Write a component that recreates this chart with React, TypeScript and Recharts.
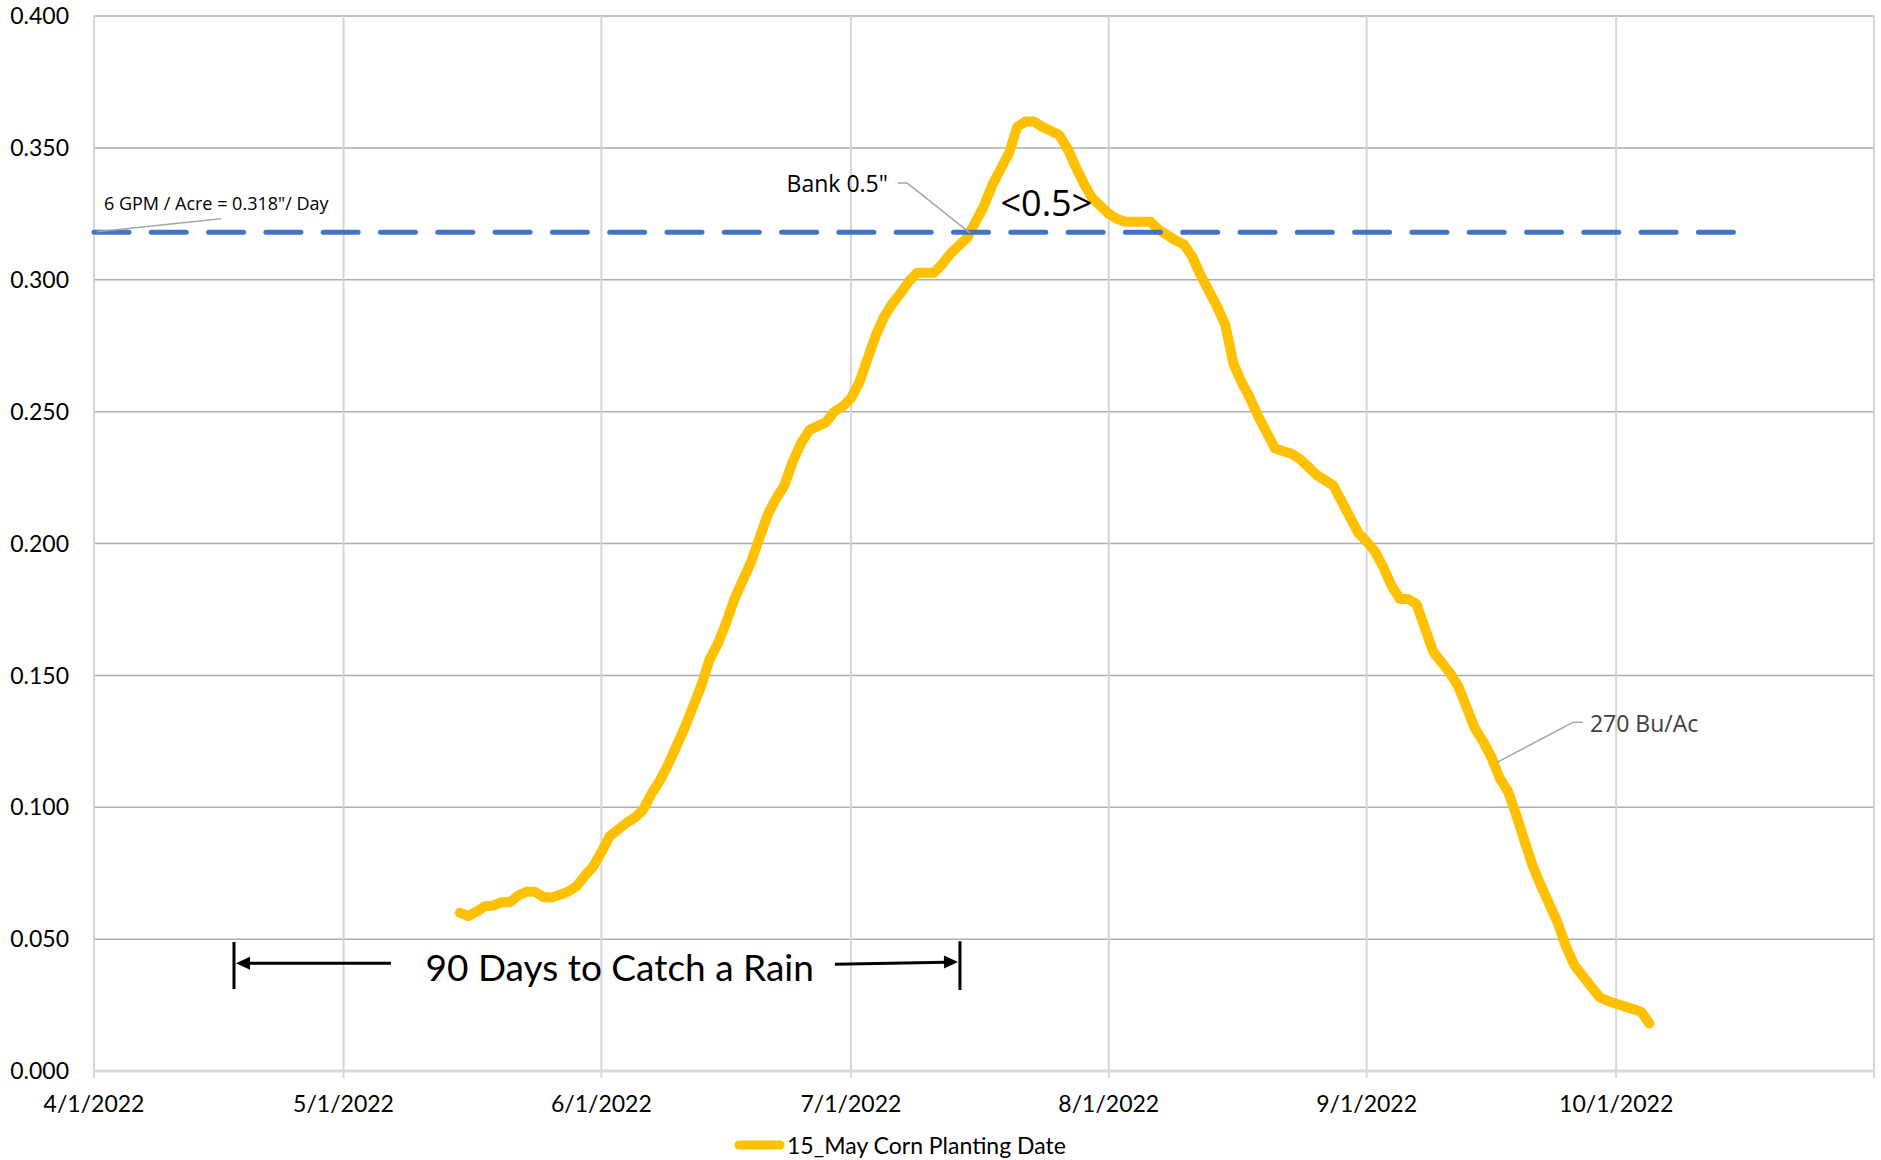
import React from 'react';
import {
  LineChart,
  Line,
  XAxis,
  YAxis,
  CartesianGrid,
  Legend,
  ReferenceLine,
  ReferenceDot,
} from 'recharts';

// ---- axis ----
const axisStart = '2022-04-01';
const axisEnd = '2022-11-01';
const tickDates = [
  '2022-04-01',
  '2022-05-01',
  '2022-06-01',
  '2022-07-01',
  '2022-08-01',
  '2022-09-01',
  '2022-10-01',
  '2022-11-01',
];
const tickLabels = ['4/1/2022', '5/1/2022', '6/1/2022', '7/1/2022', '8/1/2022', '9/1/2022', '10/1/2022', ''];
const yTicks = [0, 0.05, 0.1, 0.15, 0.2, 0.25, 0.3, 0.35, 0.4];

// ---- series: daily water use (in/day), 15 May planting ----
const seriesName = '15_May Corn Planting Date';
const useStart = '2022-05-15';
const waterUse = [
  0.06, 0.0587, 0.0605, 0.0625, 0.0627, 0.064, 0.064, 0.0665, 0.068, 0.068,
  0.066, 0.0658, 0.0668, 0.068, 0.07, 0.074, 0.0775, 0.083, 0.089, 0.0915,
  0.094, 0.096, 0.099, 0.105, 0.11, 0.116, 0.123, 0.13, 0.138, 0.146,
  0.156, 0.162, 0.17, 0.179, 0.186, 0.193, 0.202, 0.211, 0.217, 0.222,
  0.231, 0.238, 0.243, 0.2445, 0.246, 0.25, 0.252, 0.255, 0.261, 0.27,
  0.279, 0.286, 0.291, 0.295, 0.2995, 0.3027, 0.3027, 0.3027, 0.306, 0.31,
  0.313, 0.316, 0.322, 0.328, 0.336, 0.342, 0.348, 0.358, 0.36, 0.36,
  0.358, 0.3565, 0.355, 0.35, 0.343, 0.3365, 0.331, 0.328, 0.325, 0.323,
  0.322, 0.322, 0.322, 0.322, 0.319, 0.317, 0.315, 0.3135, 0.309, 0.302,
  0.296, 0.29, 0.283, 0.268, 0.261, 0.255, 0.248, 0.242, 0.236, 0.235,
  0.234, 0.232, 0.229, 0.226, 0.224, 0.222, 0.216, 0.21, 0.204, 0.2008,
  0.197, 0.191, 0.184, 0.179, 0.179, 0.177, 0.168, 0.159, 0.155, 0.151,
  0.146, 0.138, 0.13, 0.125, 0.119, 0.111, 0.106, 0.097, 0.087, 0.0775,
  0.07, 0.063, 0.056, 0.047, 0.04, 0.036, 0.032, 0.028, 0.0265, 0.0255,
  0.0245, 0.0235, 0.0225, 0.018,
];

// ---- threshold series: 6 GPM / acre ----
const thresholdValue = 0.318;
const thresholdStart = '2022-04-01';
const thresholdEnd = '2022-10-17';

const dayOf = (iso: string) => Math.round((Date.parse(iso) - Date.parse(axisStart)) / 86400000);

const useStartDay = dayOf(useStart);
const thrStartDay = dayOf(thresholdStart);
const thrEndDay = dayOf(thresholdEnd);
const lastDay = Math.max(thrEndDay, useStartDay + waterUse.length - 1);

const rows: { day: number; use?: number; threshold?: number }[] = [];
for (let d = 0; d <= lastDay; d++) {
  const row: { day: number; use?: number; threshold?: number } = { day: d };
  const i = d - useStartDay;
  if (i >= 0 && i < waterUse.length) row.use = waterUse[i];
  if (d >= thrStartDay && d <= thrEndDay) row.threshold = thresholdValue;
  rows.push(row);
}

const tickDays = tickDates.map(dayOf);
const labelFor = (d: number) => {
  const i = tickDays.indexOf(d);
  return i >= 0 ? tickLabels[i] : '';
};

const AXIS_FONT = 'Lato, "Liberation Sans", sans-serif';
const NOTE_FONT = '"Open Sans", "Noto Sans", sans-serif';
const LEADER = '#A6A6A6';

const textShape =
  (text: string, size: number, anchor: 'start' | 'middle' | 'end', fill: string, family: string) =>
  (p: any) => (
    <text
      x={p.cx}
      y={p.cy}
      textAnchor={anchor}
      dominantBaseline="central"
      fontSize={size}
      fontFamily={family}
      fill={fill}
    >
      {text}
    </text>
  );

const arrowHead = (dir: 'left' | 'right') => (p: any) => {
  const s = dir === 'left' ? 1 : -1;
  return (
    <path
      d={`M ${p.cx} ${p.cy} L ${p.cx + s * 14} ${p.cy - 6.5} L ${p.cx + s * 14} ${p.cy + 6.5} Z`}
      fill="#000"
    />
  );
};

const LegendContent = () => (
  <div style={{ display: 'flex', alignItems: 'center', height: 30, marginLeft: 733 }}>
    <svg width={52} height={14} style={{ display: 'block' }}>
      <line x1={6} y1={7} x2={47} y2={7} stroke="#FFC000" strokeWidth={9} strokeLinecap="round" />
    </svg>
    <span style={{ fontFamily: AXIS_FONT, fontSize: 23, color: '#000', marginLeft: 2 }}>{seriesName}</span>
  </div>
);

export default function App() {
  return (
    <div style={{ position: 'absolute', left: 0, top: 0, width: 1881, height: 1160, background: '#fff' }}>
      <LineChart width={1881} height={1160} data={rows} margin={{ top: 16, right: 7, bottom: 0, left: 0 }}>
        <CartesianGrid vertical={false} stroke="#ADADAD" strokeWidth={1.5} />
        <CartesianGrid horizontal={false} stroke="#D6D6D6" strokeWidth={2} />
        <XAxis
          type="number"
          dataKey="day"
          domain={[tickDays[0], dayOf(axisEnd)]}
          ticks={tickDays}
          interval={0}
          tickFormatter={labelFor}
          height={59}
          tickSize={7}
          tickMargin={18}
          axisLine={{ stroke: '#D9D9D9', strokeWidth: 3 }}
          tickLine={{ stroke: '#D9D9D9', strokeWidth: 2 }}
          tick={{ fill: '#000', fontSize: 23, fontFamily: AXIS_FONT }}
        />
        <YAxis
          type="number"
          domain={[0, 0.4]}
          ticks={yTicks}
          interval={0}
          width={94}
          tickSize={0}
          tickMargin={25}
          axisLine={false}
          tickLine={false}
          tickFormatter={(v: number) => v.toFixed(3)}
          tick={{ fill: '#000', fontSize: 23, fontFamily: AXIS_FONT }}
        />
        <Legend verticalAlign="bottom" height={30} content={LegendContent} />
        <Line
          type="linear"
          dataKey="use"
          name={seriesName}
          stroke="#FFC000"
          strokeWidth={10}
          strokeLinejoin="round"
          strokeLinecap="round"
          dot={false}
          activeDot={false}
          isAnimationActive={false}
        />
        <Line
          type="linear"
          dataKey="threshold"
          name="6 GPM / Acre"
          stroke="#4472C4"
          strokeWidth={5}
          strokeDasharray="35 22.3"
          strokeLinecap="round"
          dot={false}
          activeDot={false}
          legendType="none"
          isAnimationActive={false}
        />

        {/* 6 GPM label */}
        <ReferenceLine segment={[{ x: 0.36, y: 0.3182 }, { x: 15.27, y: 0.3231 }]} stroke={LEADER} strokeWidth={1.5} />
        <ReferenceDot x={1.2} y={0.3292} r={0} shape={textShape('6 GPM / Acre = 0.318"/ Day', 18, 'start', '#000', NOTE_FONT)} />

        {/* Bank 0.5" label */}
        <ReferenceLine segment={[{ x: 96.66, y: 0.3367 }, { x: 97.74, y: 0.3367 }]} stroke={LEADER} strokeWidth={1.5} />
        <ReferenceLine segment={[{ x: 97.74, y: 0.3367 }, { x: 105.31, y: 0.3178 }]} stroke={LEADER} strokeWidth={1.5} />
        <ReferenceDot x={95.45} y={0.3365} r={0} shape={textShape('Bank 0.5"', 23, 'end', '#000', NOTE_FONT)} />
        <ReferenceDot x={114.5} y={0.3294} r={0} shape={textShape('<0.5>', 36, 'middle', '#000', NOTE_FONT)} />

        {/* 270 Bu/Ac label */}
        <ReferenceLine segment={[{ x: 179.0, y: 0.1322 }, { x: 177.8, y: 0.1322 }]} stroke={LEADER} strokeWidth={1.5} />
        <ReferenceLine segment={[{ x: 177.8, y: 0.1322 }, { x: 168.67, y: 0.117 }]} stroke={LEADER} strokeWidth={1.5} />
        <ReferenceDot x={179.85} y={0.1318} r={0} shape={textShape('270 Bu/Ac', 23, 'start', '#404040', NOTE_FONT)} />

        {/* 90 Days to Catch a Rain */}
        <ReferenceLine segment={[{ x: 16.83, y: 0.0489 }, { x: 16.83, y: 0.0311 }]} stroke="#000" strokeWidth={3} />
        <ReferenceLine segment={[{ x: 104.11, y: 0.0492 }, { x: 104.11, y: 0.0307 }]} stroke="#000" strokeWidth={3} />
        <ReferenceLine segment={[{ x: 35.7, y: 0.0409 }, { x: 18.5, y: 0.0409 }]} stroke="#000" strokeWidth={3} />
        <ReferenceLine segment={[{ x: 89.08, y: 0.0405 }, { x: 102.4, y: 0.0412 }]} stroke="#000" strokeWidth={3} />
        <ReferenceDot x={17.07} y={0.0409} r={0} shape={arrowHead('left')} />
        <ReferenceDot x={103.87} y={0.0413} r={0} shape={arrowHead('right')} />
        <ReferenceDot x={63.2} y={0.0398} r={0} shape={textShape('90 Days to Catch a Rain', 37, 'middle', '#000', AXIS_FONT)} />
      </LineChart>
    </div>
  );
}
